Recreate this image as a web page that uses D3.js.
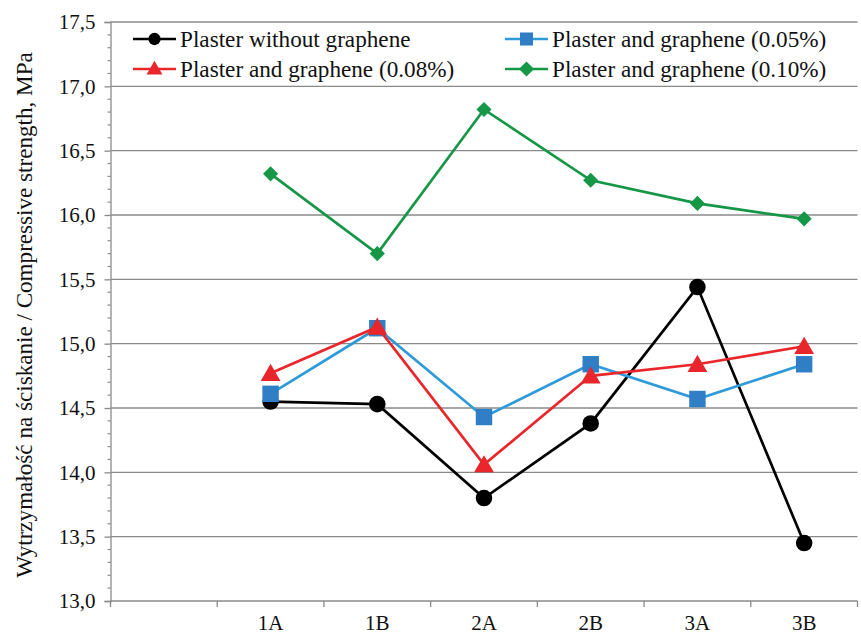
<!DOCTYPE html>
<html><head><meta charset="utf-8">
<script src="https://cdn.jsdelivr.net/npm/d3@7"></script>
<style>body{margin:0;background:#fff}svg{display:block}
svg text{font-family:"Liberation Serif","Times New Roman","DejaVu Serif",serif !important;}</style>
</head><body>
<svg id="c" width="861" height="636"></svg>
<script>
const categories = ["", "1A", "1B", "2A", "2B", "3A", "3B"];
const seriesNames = ["Plaster without graphene", "Plaster and graphene (0.05%)", "Plaster and graphene (0.08%)", "Plaster and graphene (0.10%)"];
const withoutGraphene = [null, 14.55, 14.53, 13.80, 14.38, 15.44, 13.45];
const graphene005 = [null, 14.61, 15.12, 14.43, 14.84, 14.57, 14.84];
const graphene008 = [null, 14.77, 15.13, 14.06, 14.75, 14.84, 14.98];
const graphene010 = [null, 16.32, 15.70, 16.82, 16.27, 16.09, 15.97];
const yTicks = [13.0, 13.5, 14.0, 14.5, 15.0, 15.5, 16.0, 16.5, 17.0, 17.5];
const yLabel = "Wytrzymałość na ściskanie / Compressive strength, MPa";

const series = [
  {name: seriesNames[0], values: withoutGraphene, line: "#000000", fill: "#000000", sym: "circle"},
  {name: seriesNames[1], values: graphene005, line: "#2f9ad9", fill: "#2f7ec6", sym: "square"},
  {name: seriesNames[2], values: graphene008, line: "#e8262b", fill: "#e8262b", sym: "triangle"},
  {name: seriesNames[3], values: graphene010, line: "#169647", fill: "#169647", sym: "diamond"}
];

const svg = d3.select("#c");
const L = 110.5, R = 857.5, T = 22, B = 601;
const x = d3.scaleBand().domain(categories.map((c,i)=>i)).range([L, R]).padding(0);
const y = d3.scaleLinear().domain([13, 17.5]).range([B, T]);

// gridlines
svg.append("g").selectAll("line").data(yTicks.filter(v=>v>13)).join("line")
  .attr("x1", L).attr("x2", R).attr("y1", d=>y(d)).attr("y2", d=>y(d))
  .attr("stroke", "#8a8a8a").attr("stroke-width", 1.3);

// y axis
const yAxis = d3.axisLeft(y).tickValues(yTicks).tickSize(6)
  .tickFormat(d => d3.format(".1f")(d).replace(".", ","));
const gy = svg.append("g").attr("transform", `translate(${L},0)`).call(yAxis);
gy.select(".domain").attr("stroke", "#8a8a8a").attr("stroke-width", 1.3);
gy.selectAll(".tick line").attr("stroke", "#8a8a8a").attr("stroke-width", 1.3);
gy.selectAll(".tick text").attr("font-size", 21).attr("fill", "#111").attr("x", -15).attr("dy", "0.33em");
// minor ticks
const minor = d3.range(13.1, 17.5, 0.1).filter(v => Math.abs(v*2 - Math.round(v*2)) > 0.01);
svg.append("g").selectAll("line").data(minor).join("line")
  .attr("x1", L-3).attr("x2", L).attr("y1", d=>y(d)).attr("y2", d=>y(d))
  .attr("stroke", "#8a8a8a").attr("stroke-width", 1.2);

// x axis
const gx = svg.append("g").attr("transform", `translate(0,${B})`);
gx.append("line").attr("x1", L).attr("x2", R).attr("stroke", "#8a8a8a").attr("stroke-width", 1.3);
const edges = categories.map((c,i)=>x(i)).concat([R]);
gx.selectAll("line.t").data(edges).join("line").attr("class","t")
  .attr("x1", d=>d).attr("x2", d=>d).attr("y1", 0).attr("y2", 6)
  .attr("stroke", "#8a8a8a").attr("stroke-width", 1.3);
gx.selectAll("text").data(categories).join("text")
  .attr("x", (d,i)=>x(i)+x.bandwidth()/2).attr("y", 28.5)
  .attr("text-anchor", "middle").attr("font-size", 21).attr("fill", "#111")
  .text(d=>d);

// y label, fitted to reference length
const yl = svg.append("text").attr("transform", `translate(32,315) rotate(-90)`)
  .attr("text-anchor", "middle").attr("font-size", 23).attr("fill", "#111")
  .text(yLabel);
const ylLen = yl.node().getComputedTextLength();
if (ylLen > 0) yl.attr("font-size", 23 * 526 / ylLen);

function symbolPath(s, legend){
  const m = legend
    ? {circle: [d3.symbolCircle, 120], square: [d3.symbolSquare, 170], triangle: [d3.symbolTriangle, 110], diamond: [d3.symbolSquare, 115]}
    : {circle: [d3.symbolCircle, 215], square: [d3.symbolSquare, 270], triangle: [d3.symbolTriangle, 170], diamond: [d3.symbolSquare, 115]};
  return d3.symbol().type(m[s][0]).size(m[s][1])();
}
function symTransform(s, px, py){
  if (s === "triangle") return `translate(${px},${py+2})`;
  if (s === "diamond") return `translate(${px},${py}) rotate(45)`;
  return `translate(${px},${py})`;
}

const cx = i => x(i) + x.bandwidth()/2;
series.forEach(s => {
  const pts = s.values.map((v,i)=>({v,i})).filter(d=>d.v!=null);
  svg.append("path").datum(pts)
    .attr("d", d3.line().x(d=>cx(d.i)).y(d=>y(d.v)))
    .attr("fill", "none").attr("stroke", s.line).attr("stroke-width", 2.7);
  svg.append("g").selectAll("path").data(pts).join("path")
    .attr("transform", d=>symTransform(s.sym, cx(d.i), y(d.v)))
    .attr("d", symbolPath(s.sym, false)).attr("fill", s.fill);
});

// legend
const legendItems = [
  {s: series[0], pos: [133, 39]},
  {s: series[1], pos: [505, 39]},
  {s: series[2], pos: [133, 69]},
  {s: series[3], pos: [505, 69]}
];
const lg = svg.append("g");
legendItems.forEach(it => {
  const [lx, ly] = it.pos;
  lg.append("line").attr("x1", lx).attr("x2", lx+43).attr("y1", ly).attr("y2", ly)
    .attr("stroke", it.s.line).attr("stroke-width", 2.7);
  lg.append("path").attr("transform", symTransform(it.s.sym, lx+21.5, ly - (it.s.sym==="triangle"?1:0)))
    .attr("d", symbolPath(it.s.sym, true)).attr("fill", it.s.fill);
  lg.append("text").attr("x", lx+47).attr("y", ly+7.5).attr("font-size", 23.2).attr("fill", "#111")
    .text(it.s.name);
});
</script>
</body></html>
